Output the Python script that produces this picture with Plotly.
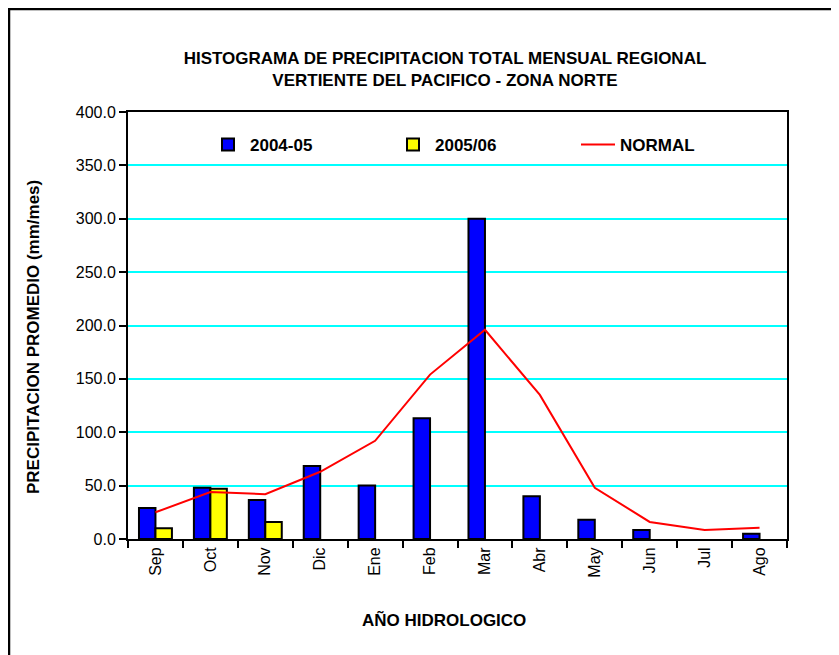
import plotly.graph_objects as go

months = ["Sep", "Oct", "Nov", "Dic", "Ene", "Feb", "Mar", "Abr", "May", "Jun", "Jul", "Ago"]
serie_2004_05 = [29, 48, 36.5, 68.5, 50, 113, 300, 40, 18, 8.5, None, 5]
serie_2005_06 = [10, 47, 16, None, None, None, None, None, None, None, None, None]
normal = [25, 44, 42, 63, 92, 154, 196, 135, 48, 16, 8.5, 10.5]

FONT = "Liberation Sans, Arial, sans-serif"
FS = 17
TFS = 16

fig = go.Figure()
fig.add_trace(go.Bar(
    x=months, y=serie_2004_05, name="2004-05",
    marker=dict(color="#0000FF", line=dict(color="black", width=2)),
))
fig.add_trace(go.Bar(
    x=months, y=serie_2005_06, name="2005/06",
    marker=dict(color="#FFFF00", line=dict(color="black", width=2)),
))
fig.add_trace(go.Scatter(
    x=months, y=normal, name="NORMAL", mode="lines",
    line=dict(color="#FF0000", width=2),
))

OFF = 8  # page body margin
W, H = 831, 647
L = 128 - OFF
T = 112 - OFF
R = W - (787 - OFF)
B = H - (539 - OFF)
pw, ph = W - L - R, H - T - B

def px_x(xs):
    return (xs - OFF - L) / pw

def px_y(ys):
    return (H - B - (ys - OFF)) / ph

fig.update_layout(
    width=W, height=H,
    margin=dict(l=L, r=R, t=T, b=B),
    paper_bgcolor="white", plot_bgcolor="white",
    font=dict(family=FONT, size=FS, color="black"),
    barmode="group", bargap=0.4, bargroupgap=0,
    showlegend=True,
    legend=dict(
        orientation="h", x=px_x(206), y=px_y(145), xanchor="left", yanchor="middle",
        entrywidth=136, entrywidthmode="pixels", itemwidth=34,
        font=dict(family=FONT, size=FS, color="black", weight="bold"),
        bgcolor="rgba(0,0,0,0)", traceorder="normal",
    ),
    title=dict(
        text="HISTOGRAMA DE PRECIPITACION TOTAL MENSUAL REGIONAL<br>VERTIENTE DEL PACIFICO - ZONA NORTE",
        x=px_x(445), xref="paper", xanchor="center",
        y=1 - (63.5 - OFF) / H, yref="container", yanchor="middle",
        font=dict(family=FONT, size=FS, color="black", weight="bold"),
    ),
    xaxis=dict(
        type="category", tickson="boundaries", ticks="outside", ticklen=7,
        tickwidth=2, tickcolor="black",
        showline=True, linecolor="black", linewidth=2, mirror=True,
        showgrid=False, tickangle=-90,
        tickfont=dict(family=FONT, size=TFS, color="black"),
    ),
    yaxis=dict(
        range=[0, 400], dtick=50, tickformat=".1f",
        ticks="outside", ticklen=7, tickwidth=2, tickcolor="black",
        showline=True, linecolor="black", linewidth=2, mirror=True,
        showgrid=True, gridcolor="#00FFFF", gridwidth=2, zeroline=False,
        tickfont=dict(family=FONT, size=TFS, color="black"),
    ),
    annotations=[
        dict(text="PRECIPITACION PROMEDIO (mm/mes)", textangle=-90,
             x=px_x(33), y=px_y(337), xref="paper", yref="paper",
             xanchor="center", yanchor="middle", showarrow=False,
             font=dict(family=FONT, size=FS, color="black", weight="bold")),
        dict(text="AÑO HIDROLOGICO",
             x=px_x(444), y=px_y(620), xref="paper", yref="paper",
             xanchor="center", yanchor="middle", showarrow=False,
             font=dict(family=FONT, size=FS, color="black", weight="bold")),
    ],
    shapes=[
        dict(type="rect", xref="paper", yref="paper",
             x0=px_x(9), x1=px_x(900), y0=px_y(720), y1=px_y(9),
             line=dict(color="black", width=2.5), fillcolor="rgba(0,0,0,0)",
             layer="below"),
    ],
)

fig.write_html("out.html")
